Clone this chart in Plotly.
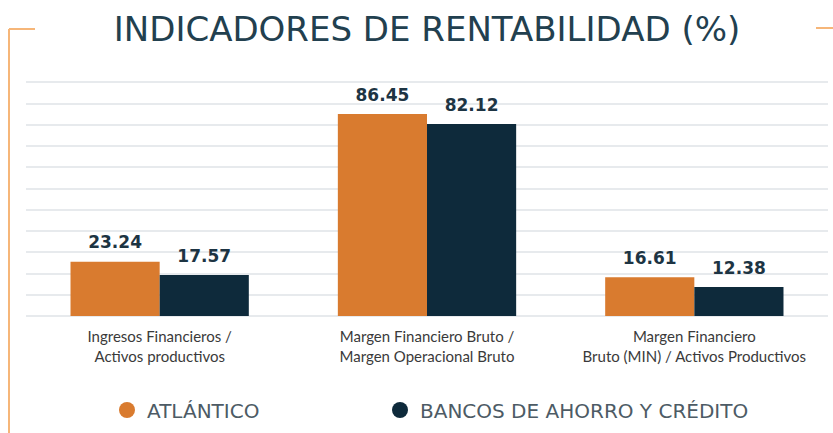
import plotly.graph_objects as go

categories = ["Ingresos Financieros /<br>Activos productivos",
              "Margen Financiero Bruto /<br>Margen Operacional Bruto",
              "Margen Financiero<br>Bruto (MIN) / Activos Productivos"]
atlantico = [23.24, 86.45, 16.61]
bancos = [17.57, 82.12, 12.38]
series_names = ["ATLÁNTICO", "BANCOS DE AHORRO Y CRÉDITO"]
title_text = "INDICADORES DE RENTABILIDAD (%)"

ORANGE = "#d97b2f"
NAVY = "#0e2a3b"
LINE = "#f6b679"
GAP = 0.333

fig = go.Figure()
groups = ["g1", "g2"]
for name, vals, col, g in [(series_names[0], atlantico, ORANGE, groups[0]),
                           (series_names[1], bancos, NAVY, groups[1])]:
    fig.add_trace(go.Bar(
        x=categories, y=vals, name=name, marker=dict(color=col, line=dict(width=0)),
        offsetgroup=g, showlegend=False, hoverinfo="x+y"))
for name, vals, g in [(series_names[0], atlantico, groups[0]), (series_names[1], bancos, groups[1])]:
    fig.add_trace(go.Scatter(
        x=categories, y=vals, name=name, mode="markers+text", offsetgroup=g,
        marker=dict(size=13, opacity=0), text=[f"{v:.2f}" for v in vals],
        textposition="top center",
        textfont=dict(family="DejaVu Sans", size=17, color="#1d3443", weight="bold"),
        cliponaxis=False, showlegend=False, hoverinfo="skip"))

fig.add_trace(go.Scatter(x=[None], y=[None], mode="markers", name=series_names[0], offsetgroup=groups[0],
                         marker=dict(color=ORANGE, size=18, symbol="circle"), legend="legend"))
fig.add_trace(go.Scatter(x=[None], y=[None], mode="markers", name=series_names[1], offsetgroup=groups[1],
                         marker=dict(color=NAVY, size=18, symbol="circle"), legend="legend2"))

legend_font = dict(family="DejaVu Sans", size=20, color="#4d5b65")
L, R, T, B = 26, 5, 80, 117
W = 833 - L - R
H = 433 - T - B
fig.update_layout(
    width=833, height=433,
    margin=dict(l=L, r=R, t=T, b=B, autoexpand=False),
    paper_bgcolor="white", plot_bgcolor="white",
    barmode="group", bargap=GAP, bargroupgap=0,
    scattermode="group", scattergap=GAP,
    title=dict(text=title_text, x=0.5, xanchor="center", y=1 - 29 / 433, yanchor="middle",
               xref="paper",
               font=dict(family="DejaVu Sans", size=34, color="#22404f")),
    xaxis=dict(showgrid=False, showline=False, ticks="", automargin=False, ticklabelstandoff=10,
               tickfont=dict(family="Lato", size=15, color="#3a3a3a")),
    yaxis=dict(range=[0, 101], tick0=0, dtick=100 / 11, showticklabels=False, automargin=False,
               gridcolor="#e7eaed", gridwidth=2, zeroline=True, zerolinecolor="#e7eaed",
               zerolinewidth=2),
    legend=dict(x=(107 - L) / W, xanchor="left", y=(316 - 410) / H, yanchor="middle",
                font=legend_font, bgcolor="rgba(0,0,0,0)"),
    legend2=dict(x=(380 - L) / W, xanchor="left", y=(316 - 410) / H, yanchor="middle",
                 font=legend_font, bgcolor="rgba(0,0,0,0)"),
)

px_x = lambda p: (p - L) / W
px_y = lambda p: (316 - p) / H
fig.add_shape(type="line", xref="paper", yref="paper", x0=px_x(9), x1=px_x(35), y0=px_y(29), y1=px_y(29),
              line=dict(color=LINE, width=2))
fig.add_shape(type="line", xref="paper", yref="paper", x0=px_x(9), x1=px_x(9), y0=px_y(29), y1=px_y(440),
              line=dict(color=LINE, width=2))
fig.add_shape(type="line", xref="paper", yref="paper", x0=px_x(816), x1=px_x(840), y0=px_y(28), y1=px_y(28),
              line=dict(color=LINE, width=2))

fig.write_html("out.html", config={"displayModeBar": False},
               post_script="document.body.style.margin='0';")
